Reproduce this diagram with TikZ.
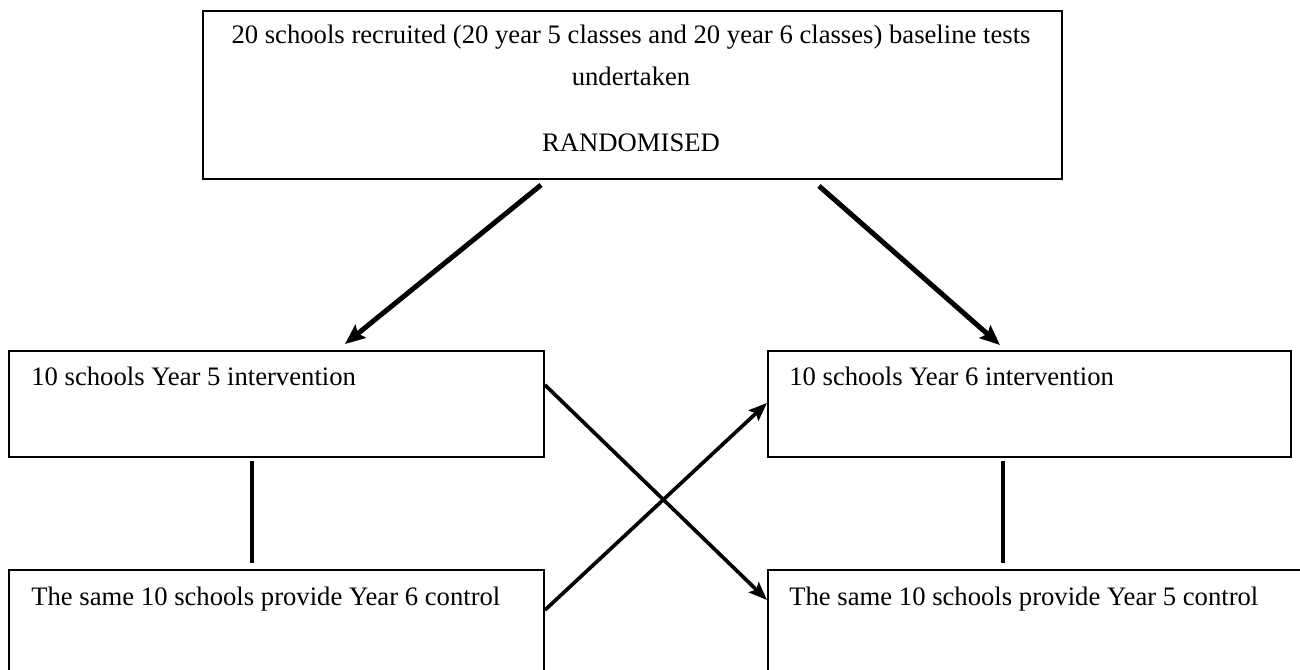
\documentclass[tikz,border=0pt]{standalone}
\usepackage{fontspec}
\setmainfont{Liberation Serif}
\usetikzlibrary{arrows.meta,calc}
\begin{document}
\begin{tikzpicture}[x=0.6pt,y=-0.6pt,
  box/.style={draw, line width=1.2pt, rectangle, inner sep=0pt, anchor=north west},
  txt/.style={inner sep=0pt, font=\fontsize{16}{19}\selectfont},
  bigarrow/.style={line width=3pt, -{Stealth[length=12pt,width=10pt,inset=2pt]}},
  crossarrow/.style={line width=2.2pt, -{Stealth[length=11pt,width=8.5pt,inset=2pt]}},
  link/.style={line width=2.4pt}]
\useasboundingbox (0,0) rectangle (1300,670);
\clip (0,0) rectangle (1300,670);
% boxes
\node[box, minimum width=515.4pt, minimum height=100.8pt] (top) at (202,10) {};
\node[box, minimum width=321pt, minimum height=63.6pt] (L5) at (8,350) {};
\node[box, minimum width=313.8pt, minimum height=63.6pt] (R6) at (767,350) {};
\node[box, minimum width=321pt, minimum height=90pt] (L6c) at (8,569) {};
\node[box, minimum width=360pt, minimum height=90pt] (R5c) at (767,569) {};
% texts
\node[txt, anchor=base] (t1) at (631,44) {20 schools recruited (20 year 5 classes and 20 year 6 classes) baseline tests};
\node[txt, anchor=base] (t2) at (631,86) {undertaken};
\node[txt, anchor=base] (t3) at (631,152) {RANDOMISED};
\node[txt, anchor=base west] (t4) at (31,385) {10 schools Year 5 intervention};
\node[txt, anchor=base west] (t5) at (789,385) {10 schools Year 6 intervention};
\node[txt, anchor=base west] (t6) at (31,605) {The same 10 schools provide Year 6 control};
\node[txt, anchor=base west] (t7) at (789,605) {The same 10 schools provide Year 5 control};
% connectors
\draw[bigarrow] ($(top.south west)+(339,5)$) -- ($(L5.north west)+(337,-6)$);
\draw[bigarrow] ($(top.south west)+(617,6)$) -- ($(R6.north west)+(233,-5)$);
\draw[link] ($(L5.south west)+(244,3)$) -- ($(L6c.north west)+(244,-6)$);
\draw[link] ($(R6.south west)+(236,3)$) -- ($(R5c.north west)+(236,-6)$);
\draw[crossarrow] ($(L5.north east)+(0,35)$) -- ($(R5c.north west)+(0,31)$);
\draw[crossarrow] ($(L6c.north east)+(0,41)$) -- ($(R6.north west)+(0,53)$);
\end{tikzpicture}
\end{document}
